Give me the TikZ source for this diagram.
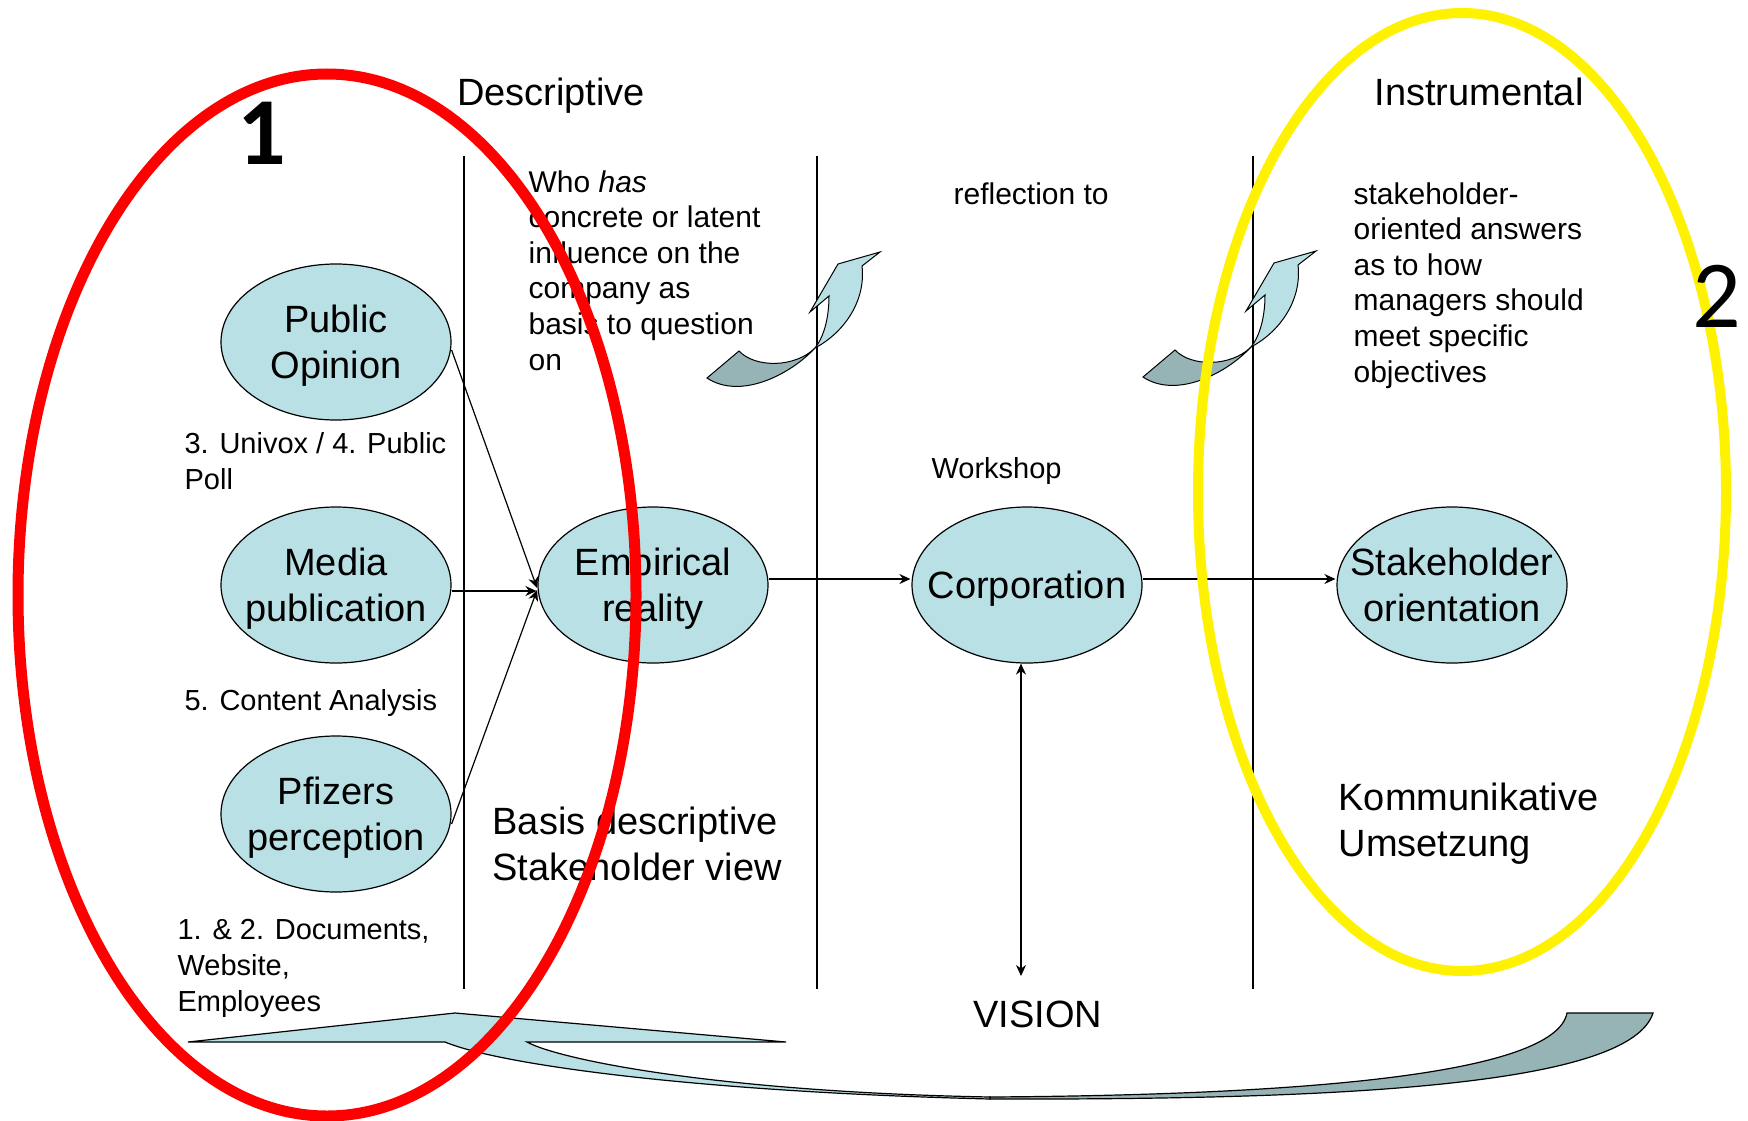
\documentclass[tikz,border=0pt]{standalone}
\usepackage{fontspec}
\setmainfont{Liberation Sans}
\newfontfamily\calibri{Carlito}
\usepackage{tikz}
\usetikzlibrary{
        arrows.meta,
        positioning,
        shapes.geometric
    }
\definecolor{lblue}{RGB}{185,224,228}
\definecolor{dgrey}{RGB}{150,179,181}
\tikzset{>={Stealth[length=11pt,width=10pt]},shorten >=1pt,node distance=2cm}
\tikzset{bubble/.style={ellipse,draw,fill=lblue,line width=1.2pt,minimum width=230pt,minimum height=156pt,inner sep=-25pt,text depth=-4pt,align=center,font=\fontsize{38}{46}\selectfont}}
\tikzset{note/.style={anchor=base west,align=left,inner sep=0pt,font=\fontsize{30}{35.6}\selectfont}}
\tikzset{small note/.style={note,font=\fontsize{29}{36}\selectfont}}
\tikzset{head/.style={anchor=base west,align=left,inner sep=0pt,font=\fontsize{38}{46}\selectfont}}

\begin{document}
\begin{tikzpicture}[x=1pt,y=-1pt,line width=1.2pt]
                \useasboundingbox (0,0) rectangle (1748,1121);
                % column rules
                \foreach \x in {464,817,1253}
                    \draw (\x,156) -- (\x,990);
                \node[font=\fontsize{38}{46}\selectfont,anchor=base] (descr) at (551,106) {Descriptive};
                \node[font=\fontsize{38}{46}\selectfont,anchor=base] (instr) at (1479,106) {Instrumental};
                % base of the last line
                \node[note] (who) at (528,370) {Who \textit{has}\\concrete or latent\\influence on the\\company as\\basis to question\\on};
                \node[note] (refl) at (953,204) {reflection to};
                \node[note] (answ) at (1353,382) {stakeholder-\\oriented answers\\as to how\\managers should\\meet specific\\objectives};
                \node[small note] (univox) at (184,489) {3. Univox / 4. Public\\Poll};
                \node[small note] (content) at (184,710) {5. Content Analysis};
                \node[small note] (docs) at (177,1011) {1. \& 2. Documents,\\Website,\\Employees};
                \node[small note] (work) at (931,478) {Workshop};
                \node[head] (basis) at (492,880) {Basis descriptive\\Stakeholder view};
                \node[head] (komm) at (1338,856) {Kommunikative\\Umsetzung};
                \node[font=\fontsize{38}{46}\selectfont,anchor=base] (vision) at (1038,1027) {VISION};
                % the six fields
                \node[bubble] (media) at (336,585) {Media\\publication};
                \node[bubble] (public) [above of=media,node distance=243pt] {Public\\Opinion};
                \node[bubble] (pfizer) [below of=media,node distance=229pt] {Pfizers\\perception};
                \node[bubble] (emp) [right of=media,node distance=317pt] {Empirical\\reality};
                \node[bubble] (corp) [right of=emp,node distance=374pt] {Corporation};
                \node[bubble] (stake) [right of=corp,node distance=425pt] {Stakeholder\\orientation};
                \coordinate (visend) at (1021,977);
                \path[->]
                    ([yshift=-8pt]public.east) edge ([yshift=-4pt]emp.west)
                    ([yshift=-6pt]media.east) edge ([yshift=-6pt]emp.west)
                    ([yshift=-10pt]pfizer.east) edge ([yshift=-4pt]emp.west)
                    ([yshift=6pt]emp.east) edge ([yshift=6pt]corp.west)
                    ([yshift=6pt]corp.east) edge ([yshift=6pt]stake.west)
                ;
                \draw[<->] (corp.south -| visend) -- (visend);
                % small curved arrows
                \foreach \dx/\dy in {0/0,436/-1}{
                    \begin{scope}[shift={(\dx,\dy)},line width=1pt]
                    \draw[fill=dgrey] (815,348) .. controls (790,375) and (740,400) .. (707,378) -- (739,351) .. controls (755,368) and (795,368) .. (815,348) -- cycle;
                    \draw[fill=lblue] (880,252) -- (838,264) -- (810,312) -- (829,296) .. controls (829,320) and (823,338) .. (815,348) .. controls (845,332) and (866,300) .. (862,266) -- cycle;
                    \end{scope}
                }
                % big return arrow
                \draw[fill=dgrey] (990,1099) .. controls (1350,1100) and (1630,1085) .. (1653,1013) -- (1567,1013) .. controls (1555,1075) and (1300,1095) .. (990,1097) -- cycle;
                \draw[fill=lblue] (188,1042) -- (455,1013) -- (786,1042) -- (527,1042) .. controls (560,1060) and (720,1092) .. (990,1097) -- (990,1099) .. controls (700,1092) and (500,1065) .. (445,1042) -- cycle;
                % groups
                \draw[red,line width=11pt] (327,595) ellipse [x radius=309,y radius=521];
                \draw[yellow,line width=10pt] (1462,492) ellipse [x radius=264,y radius=479];
                \node[font=\calibri\bfseries\fontsize{96}{100}\selectfont] (one) at (262,133) {1};
                \node[font=\calibri\fontsize{96}{100}\selectfont] (two) at (1717,296) {2};
            \end{tikzpicture}
\end{document}
